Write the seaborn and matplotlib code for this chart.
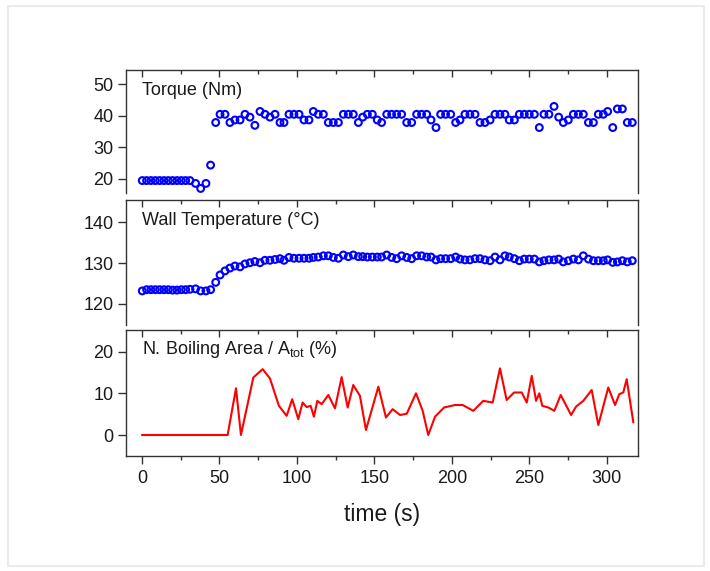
import matplotlib
matplotlib.use("Agg")
import matplotlib.pyplot as plt
from matplotlib.patches import Rectangle
from matplotlib.ticker import MultipleLocator
import seaborn as sns
import pandas as pd

# ---------------- data ----------------
time_s = [0.2, 3.0, 5.8, 8.6, 11.4, 14.2, 17.0, 19.8, 22.6, 25.4, 28.2, 31.0,
          34.6, 37.9, 41.3, 44.3, 47.6, 50.4, 53.6, 56.8, 60.0, 63.3, 66.5, 69.7,
          72.9, 76.2, 79.4, 82.6, 85.9, 89.1, 91.7, 94.9, 98.1, 101.4, 104.6, 107.8,
          110.6, 113.8, 117.1, 120.3, 123.5, 126.8, 130.0, 133.2, 136.4, 139.7, 142.5,
          145.5, 148.7, 151.9, 154.7, 158.0, 161.2, 164.4, 167.6, 170.9, 174.1, 177.3,
          180.5, 183.8, 186.6, 189.8, 192.8, 196.0, 199.3, 202.5, 205.3, 208.5, 211.7,
          215.0, 218.2, 221.4, 224.7, 227.9, 231.1, 234.3, 237.1, 240.4, 243.6, 246.8,
          250.0, 253.3, 256.5, 259.5, 262.7, 266.0, 269.0, 272.0, 275.2, 278.5, 281.7,
          284.9, 288.2, 291.4, 294.6, 297.8, 300.6, 303.9, 306.9, 310.1, 313.3, 316.5]

torque = [19.5, 19.5, 19.5, 19.5, 19.5, 19.5, 19.5, 19.5, 19.5, 19.5, 19.5, 19.5,
          18.6, 17.0, 18.6, 24.4, 37.9, 40.5, 40.5, 37.9, 38.7, 38.7, 40.5, 39.6,
          37.0, 41.4, 40.5, 39.6, 40.5, 37.9, 37.9, 40.5, 40.5, 40.5, 38.7, 38.7,
          41.4, 40.5, 40.5, 37.9, 37.9, 37.9, 40.5, 40.5, 40.5, 37.9, 39.6,
          40.5, 40.5, 38.7, 37.9, 40.5, 40.5, 40.5, 40.5, 37.9, 37.9, 40.5,
          40.5, 40.5, 38.7, 36.3, 40.5, 40.5, 40.5, 37.9, 38.7, 40.5, 40.5,
          40.5, 37.9, 37.9, 38.7, 40.5, 40.5, 40.5, 38.7, 38.7, 40.5, 40.5,
          40.5, 40.5, 36.3, 40.5, 40.5, 43.0, 39.6, 37.9, 38.7, 40.5, 40.5,
          40.5, 37.9, 37.9, 40.5, 40.5, 41.4, 36.3, 42.2, 42.2, 37.9, 37.9]

wall_temp = [123.2, 123.5, 123.5, 123.5, 123.5, 123.5, 123.5, 123.4, 123.4, 123.5, 123.5, 123.6,
             123.7, 123.2, 123.2, 123.5, 125.3, 127.1, 128.1, 128.8, 129.3, 129.1, 129.8, 130.1,
             130.4, 130.1, 130.7, 130.7, 130.9, 131.1, 130.7, 131.4, 131.2, 131.2, 131.2, 131.2,
             131.4, 131.5, 131.8, 131.8, 131.4, 131.2, 132.0, 131.6, 132.0, 131.6, 131.6,
             131.5, 131.5, 131.5, 131.5, 132.0, 131.4, 131.1, 131.8, 131.4, 131.1, 131.8,
             131.8, 131.5, 131.5, 130.8, 131.1, 131.1, 131.1, 131.5, 131.0, 130.8, 130.8,
             131.1, 131.1, 130.8, 130.6, 131.5, 130.8, 131.8, 131.5, 131.1, 130.6, 131.0,
             131.0, 131.0, 130.3, 130.6, 130.8, 130.8, 131.0, 130.3, 130.6, 131.0, 130.8,
             131.8, 131.0, 130.6, 130.6, 130.6, 130.8, 130.2, 130.3, 130.6, 130.3, 130.6]

time_boil = [0.0, 55.3, 60.7, 63.9, 71.9, 77.9, 82.6, 88.4, 93.4, 97.0, 100.9, 103.7,
             106.3, 108.9, 111.0, 113.2, 116.0, 120.3, 124.6, 128.9, 132.8, 136.4, 140.7,
             144.6, 152.6, 157.5, 161.8, 166.6, 170.9, 176.9, 181.2, 184.8, 189.2, 195.0,
             202.1, 207.0, 213.9, 220.3, 226.4, 231.1, 235.4, 240.2, 245.1, 248.4, 251.6,
             254.4, 256.5, 258.4, 262.3, 266.2, 270.3, 277.0, 280.2, 284.9, 290.3, 294.6,
             301.0, 305.4, 308.1, 310.7, 312.9, 317.2]

boil_area = [0.0, 0.0, 11.2, 0.0, 13.8, 15.8, 13.6, 7.0, 4.6, 8.6, 3.8, 7.8,
             6.7, 7.0, 4.4, 8.2, 7.4, 9.6, 6.4, 13.9, 6.6, 12.0, 9.4,
             1.2, 11.6, 4.2, 6.2, 4.8, 5.1, 10.0, 5.8, 0.0, 4.4, 6.6,
             7.2, 7.2, 5.8, 8.2, 7.8, 16.0, 8.4, 10.2, 10.2, 7.8, 14.2,
             8.2, 10.0, 7.0, 6.6, 5.8, 9.6, 4.8, 6.8, 8.2, 10.8, 2.4,
             11.4, 7.2, 9.8, 10.2, 13.4, 3.0]

panel_titles = ["Torque (Nm)", "Wall Temperature (°C)", r"N. Boiling Area / A$_{\mathregular{tot}}$ (%)"]
x_label = "time (s)"

df_sensors = pd.DataFrame({"time": time_s, "torque": torque, "temp": wall_temp})
df_boil = pd.DataFrame({"time": time_boil, "area": boil_area})

# ---------------- style ----------------
sns.set_theme(style="ticks")
plt.rcParams["font.family"] = ["Liberation Sans", "DejaVu Sans"]
plt.rcParams["mathtext.fontset"] = "custom"
plt.rcParams["mathtext.rm"] = "Liberation Sans"
plt.rcParams["mathtext.it"] = "Liberation Sans"
TXT = "#1a1a1a"
SPINE = "#333333"

fig = plt.figure(figsize=(7.10, 5.71), dpi=100)
fig.patch.set_facecolor("white")
fig.patches.append(Rectangle((8 / 710, 1 - 566 / 571), (704 - 8) / 710, (566 - 6) / 571,
                             transform=fig.transFigure, fill=False,
                             edgecolor="#ebebeb", linewidth=1.5, zorder=0))

L = 126 / 710
W = (638 - 126) / 710
def box(top, bottom):
    return [L, 1 - bottom / 571, W, (bottom - top) / 571]

ax1 = fig.add_axes(box(70, 193))
ax2 = fig.add_axes(box(200, 325))
ax3 = fig.add_axes(box(330, 456))

sns.scatterplot(data=df_sensors, x="time", y="torque", ax=ax1, marker="o", s=24,
                facecolors="none", edgecolor="#0000ff", linewidth=1.5, legend=False)
sns.scatterplot(data=df_sensors, x="time", y="temp", ax=ax2, marker="o", s=24,
                facecolors="none", edgecolor="#0000ff", linewidth=1.5, legend=False)
sns.lineplot(data=df_boil, x="time", y="area", ax=ax3, color="#ff0000", linewidth=1.5,
             legend=False)

ylims = [(15.56, 54.54), (114.85, 145.47), (-5.04, 25.2)]
yticks = [[20, 30, 40, 50], [120, 130, 140], [0, 10, 20]]
title_y = [0.797, 0.80, 0.81]

for i, ax in enumerate([ax1, ax2, ax3]):
    ax.set_xlim(-10.3, 320.2)
    ax.set_ylim(*ylims[i])
    ax.set_yticks(yticks[i])
    ax.xaxis.set_major_locator(MultipleLocator(50))
    ax.xaxis.set_minor_locator(MultipleLocator(25))
    ax.set_ylabel("")
    ax.set_xlabel("")
    for s in ["left", "right", "top", "bottom"]:
        ax.spines[s].set_color(SPINE)
        ax.spines[s].set_linewidth(1.0)
    ax.tick_params(axis="y", which="major", direction="out", length=6, width=1.0,
                   color=SPINE, labelsize=13, labelcolor=TXT, pad=3, right=False)
    ax.text(0.031, title_y[i], panel_titles[i], transform=ax.transAxes, fontsize=13,
            color=TXT, va="baseline", ha="left")
    if i < 2:
        ax.spines["bottom"].set_visible(False)
        ax.tick_params(axis="x", which="both", bottom=False, labelbottom=False)
    else:
        ax.tick_params(axis="x", which="major", direction="out", length=6, width=1.0,
                       color=SPINE, labelsize=13, labelcolor=TXT, pad=4)
        ax.tick_params(axis="x", which="minor", direction="out", length=3, width=1.0,
                       color=SPINE)
    ax.tick_params(axis="x", which="both", top=False)
    # inward ticks on the top edge of every panel
    sec = ax.secondary_xaxis("top")
    sec.xaxis.set_major_locator(MultipleLocator(50))
    sec.xaxis.set_minor_locator(MultipleLocator(25))
    sec.tick_params(axis="x", which="major", direction="in", length=5, width=1.0,
                    color=SPINE, labeltop=False)
    sec.tick_params(axis="x", which="minor", direction="in", length=3, width=1.0,
                    color=SPINE)
    sec.spines["top"].set_visible(False)

ax3.set_xlabel(x_label, fontsize=16.5, color=TXT, labelpad=11.5)

fig.savefig("out.png", dpi=100, facecolor="white")
